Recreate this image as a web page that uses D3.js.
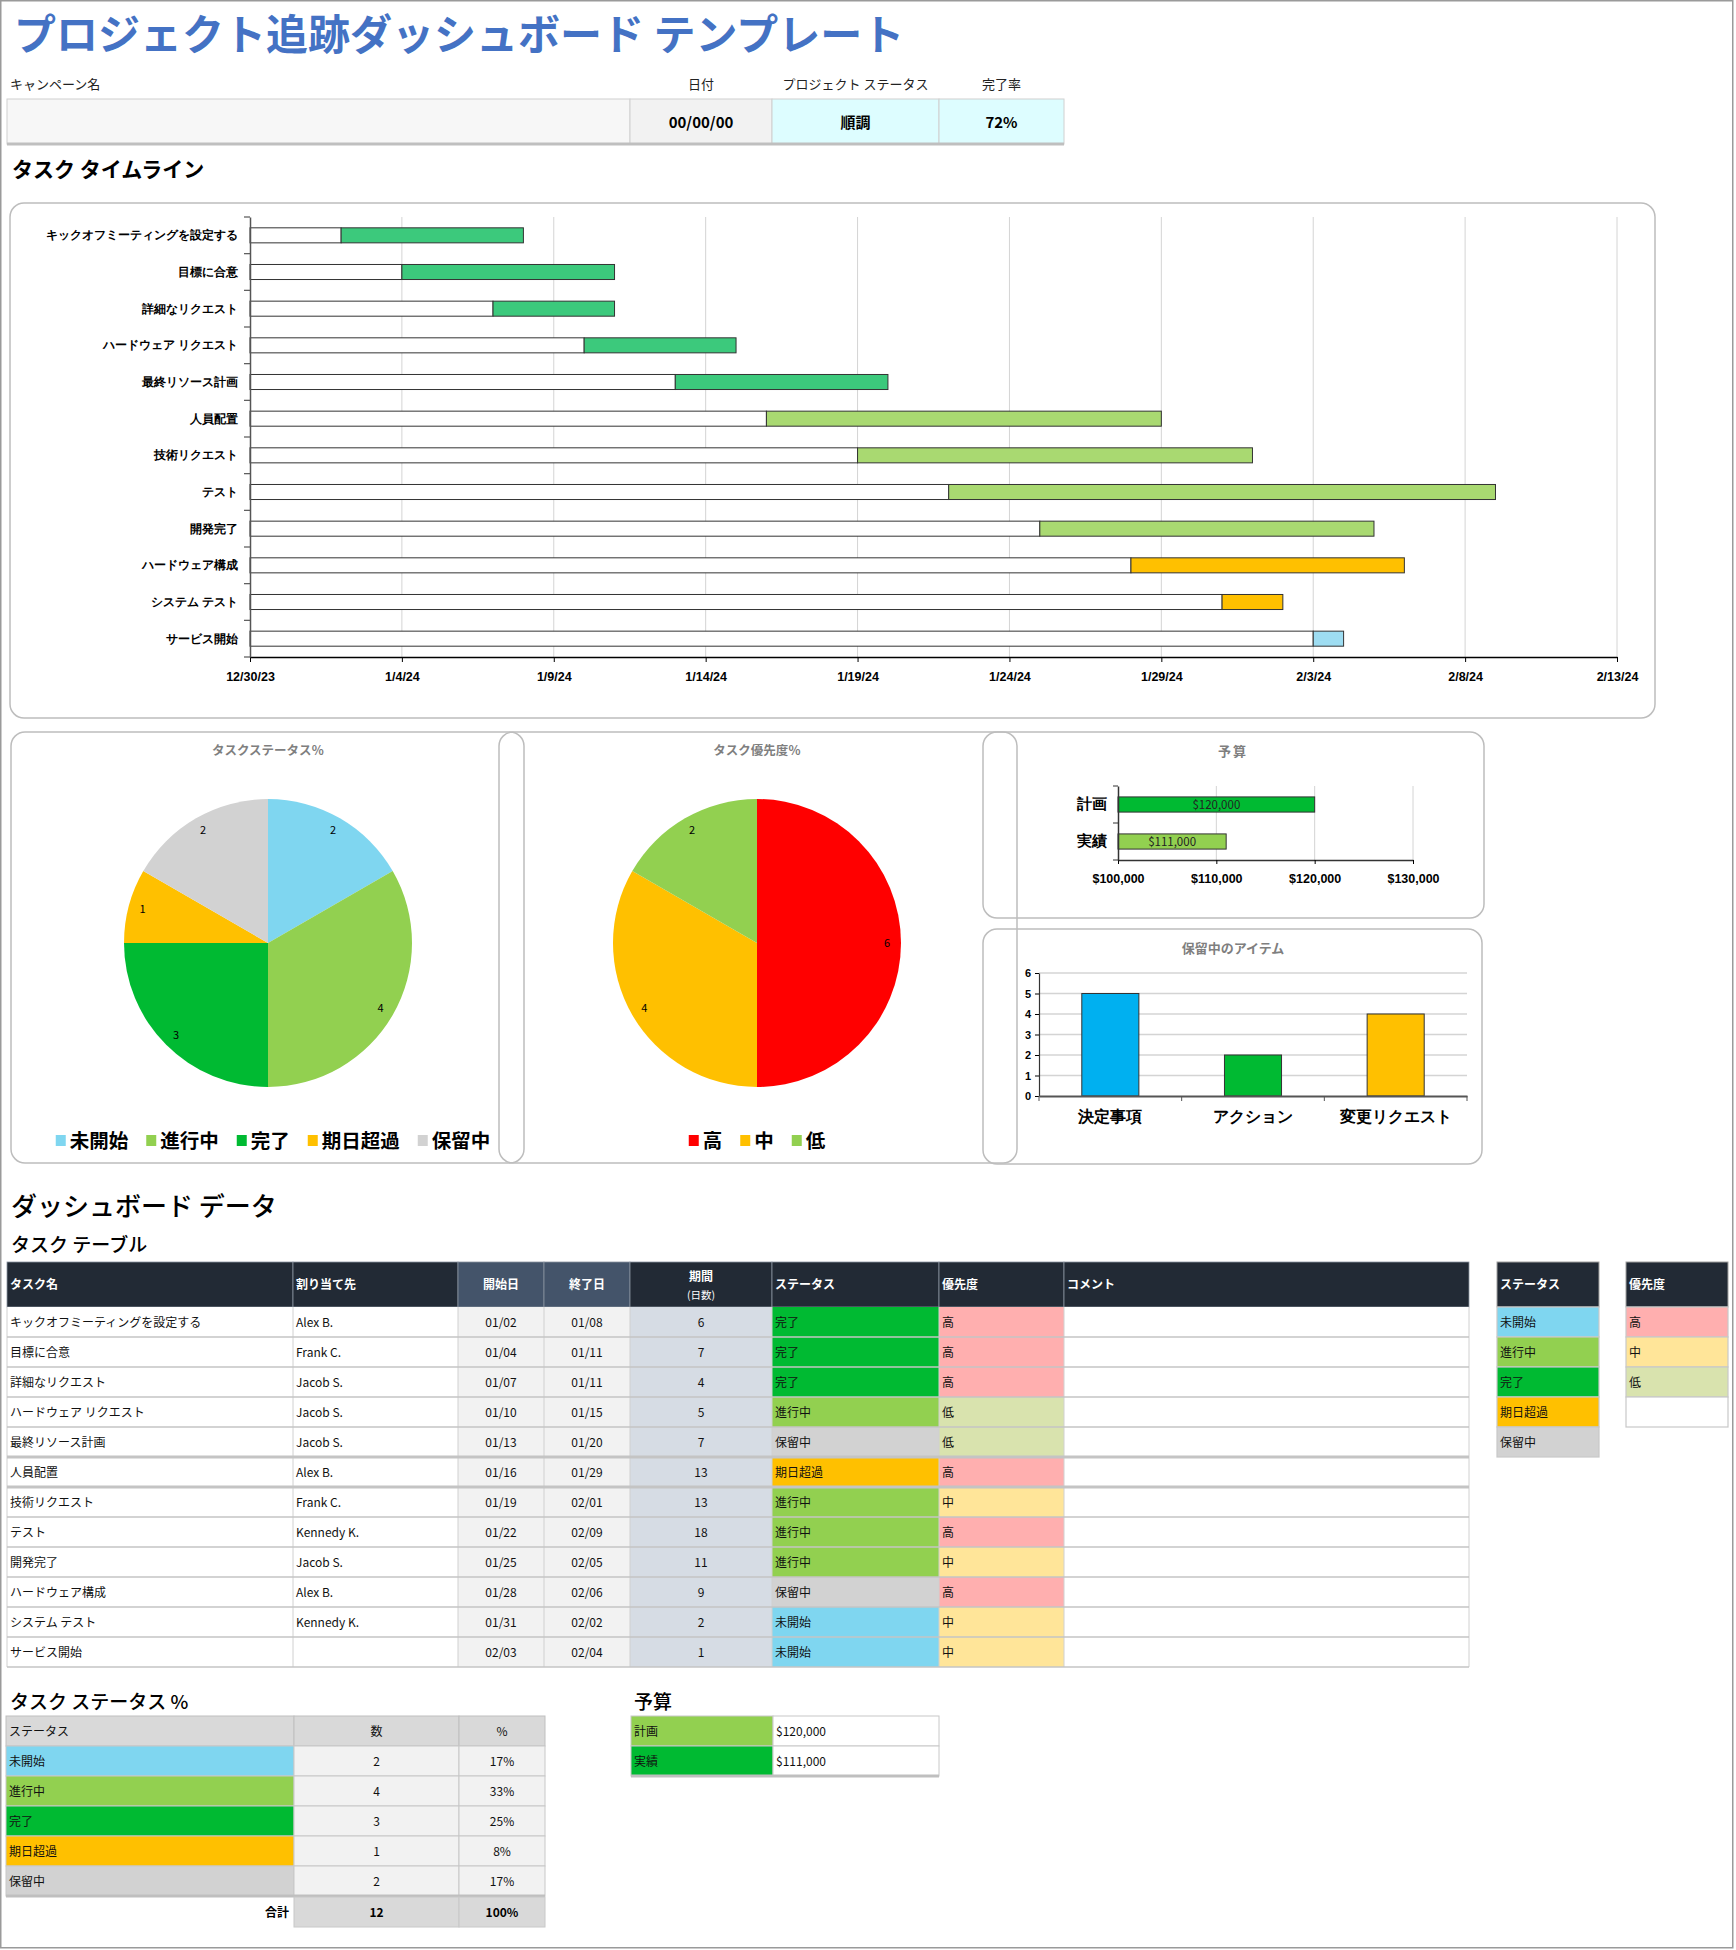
<!DOCTYPE html>
<html><head><meta charset="utf-8">
<script src="https://cdn.jsdelivr.net/npm/d3@7"></script>
<style>
html,body{margin:0;padding:0;background:#fff;}
svg{display:block;font-family:"Noto Sans CJK JP","Noto Sans",sans-serif;}
</style></head><body>
<svg id="c" width="1736" height="1950"></svg>
<script>
// ---------------- DATA ----------------
const titleText = "プロジェクト追跡ダッシュボード テンプレート";
const headerLabels = ["キャンペーン名", "日付", "プロジェクト ステータス", "完了率"];
const headerValues = ["", "00/00/00", "順調", "72%"];

const taskNames = ["キックオフミーティングを設定する","目標に合意","詳細なリクエスト","ハードウェア リクエスト","最終リソース計画","人員配置","技術リクエスト","テスト","開発完了","ハードウェア構成","システム テスト","サービス開始"];
const assignees = ["Alex B.","Frank C.","Jacob S.","Jacob S.","Jacob S.","Alex B.","Frank C.","Kennedy K.","Jacob S.","Alex B.","Kennedy K.",""];
const startDates = ["2024-01-02","2024-01-04","2024-01-07","2024-01-10","2024-01-13","2024-01-16","2024-01-19","2024-01-22","2024-01-25","2024-01-28","2024-01-31","2024-02-03"];
const endDates = ["2024-01-08","2024-01-11","2024-01-11","2024-01-15","2024-01-20","2024-01-29","2024-02-01","2024-02-09","2024-02-05","2024-02-06","2024-02-02","2024-02-04"];
const durations = [6,7,4,5,7,13,13,18,11,9,2,1];
const taskStatus = ["完了","完了","完了","進行中","保留中","期日超過","進行中","進行中","進行中","保留中","未開始","未開始"];
const taskPriority = ["高","高","高","低","低","高","中","高","中","高","中","中"];
const ganttTicks = ["2023-12-30","2024-01-04","2024-01-09","2024-01-14","2024-01-19","2024-01-24","2024-01-29","2024-02-03","2024-02-08","2024-02-13"];
const ganttGroup = ["done","done","done","done","done","mid","mid","mid","mid","late","late","new"];

const statusCats = ["未開始","進行中","完了","期日超過","保留中"];
const statusCounts = [2,4,3,1,2];
const priorityCats = ["高","中","低"];
const priorityCounts = [6,4,2];
const budgetCats = ["計画","実績"];
const budgetValues = [120000,111000];
const budgetTicks = [100000,110000,120000,130000];
const holdCats = ["決定事項","アクション","変更リクエスト"];
const holdValues = [5,2,4];
const holdTicks = [0,1,2,3,4,5,6];
const tableHeaders = ["タスク名","割り当て先","開始日","終了日","期間","ステータス","優先度","コメント"];

// ---------------- STYLES ----------------
const statusColor = {"未開始":"#7FD6F0","進行中":"#92D050","完了":"#00BA32","期日超過":"#FFC000","保留中":"#D2D2D2"};
const priorityColor = {"高":"#FFAFAF","中":"#FFE599","低":"#D9E3AE"};
const piePriorityColor = {"高":"#FF0000","中":"#FFC000","低":"#92D050"};
const ganttColor = {done:"#3CC97C", mid:"#A9D971", late:"#FFC000", new:"#9EDDF2"};
const holdColor = ["#00B0F0","#00BA32","#FFC000"];
const budgetColor = ["#00BA32","#92D050"];

const parse = d3.timeParse("%Y-%m-%d");
const fmtTick = d => `${d.getMonth()+1}/${d.getDate()}/${String(d.getFullYear()).slice(2)}`;
const svg = d3.select("#c");

// frame
svg.append("rect").attr("x",0.75).attr("y",0.75).attr("width",1732).attr("height",1947)
  .attr("fill","none").attr("stroke","#9A9A9A").attr("stroke-width",1.5);

// title
svg.append("text").attr("x",14).attr("y",50).attr("font-size",42).attr("font-weight",700)
  .attr("fill","#4472C4").text(titleText);

// header info row
const hx = [7,630,772,939,1064];
const hFill = ["#F7F7F7","#F2F2F2","#DDFDFF","#DDFDFF"];
const hg = svg.append("g");
headerLabels.forEach((t,i)=>{
  hg.append("text").attr("x", i===0 ? 10 : (hx[i]+hx[i+1])/2).attr("y",89)
    .attr("text-anchor", i===0?"start":"middle").attr("font-size",13).attr("fill","#222").text(t);
  hg.append("rect").attr("x",hx[i]).attr("y",99).attr("width",hx[i+1]-hx[i]).attr("height",45)
    .attr("fill",hFill[i]).attr("stroke","#D0D0D0").attr("stroke-width",1);
  hg.append("text").attr("x",(hx[i]+hx[i+1])/2).attr("y",128).attr("text-anchor","middle")
    .attr("font-size",15).attr("font-weight",700).attr("fill","#000").text(headerValues[i]);
});
hg.append("line").attr("x1",7).attr("x2",1064).attr("y1",144).attr("y2",144).attr("stroke","#BFBFBF").attr("stroke-width",3);

svg.append("text").attr("x",12).attr("y",177).attr("font-size",21).attr("font-weight",700).attr("fill","#000").text("タスク タイムライン");

// panels
const panel = (x,y,w,h)=>svg.append("rect").attr("x",x).attr("y",y).attr("width",w).attr("height",h)
  .attr("rx",14).attr("fill","none").attr("stroke","#BDBDBD").attr("stroke-width",1.5);
panel(10,203,1645,515);
panel(11,732,513,431);
panel(499,732,518,431);
panel(983,732,501,186);
panel(983,929,499,235);

// ---------------- GANTT ----------------
const gT = ganttTicks.map(parse);
const gx = d3.scaleTime().domain([gT[0], gT[gT.length-1]]).range([250,1617]);
const gy = d3.scaleBand().domain(taskNames).range([217,657]).paddingInner(0.59).paddingOuter(0.295);
const gg = svg.append("g");
gg.selectAll("line.grid").data(gT.slice(1)).join("line").attr("class","grid")
  .attr("x1",d=>gx(d)).attr("x2",d=>gx(d)).attr("y1",217).attr("y2",657)
  .attr("stroke","#D4D4D4").attr("stroke-width",1);
const tasks = taskNames.map((n,i)=>({n, s:parse(startDates[i]), e:parse(endDates[i]), g:ganttGroup[i]}));
gg.selectAll("rect.pre").data(tasks).join("rect").attr("class","pre")
  .attr("x",gx(gT[0])).attr("y",d=>gy(d.n)).attr("width",d=>gx(d.s)-gx(gT[0])).attr("height",gy.bandwidth())
  .attr("fill","#fff").attr("stroke","#333").attr("stroke-width",1);
gg.selectAll("rect.dur").data(tasks).join("rect").attr("class","dur")
  .attr("x",d=>gx(d.s)).attr("y",d=>gy(d.n)).attr("width",d=>gx(d.e)-gx(d.s)).attr("height",gy.bandwidth())
  .attr("fill",d=>ganttColor[d.g]).attr("stroke","#333").attr("stroke-width",1);
const gxa = gg.append("g").attr("transform","translate(0,657)")
  .call(d3.axisBottom(gx).tickValues(gT).tickFormat(fmtTick).tickSize(5).tickSizeOuter(0));
gxa.select(".domain").attr("stroke","#000").attr("stroke-width",1.5);
gxa.selectAll(".tick line").attr("stroke","#000");
gxa.selectAll("text").attr("font-size",12.5).attr("font-weight",700).attr("fill","#000").attr("dy","1.3em");
const gya = gg.append("g").attr("transform","translate(250,0)")
  .call(d3.axisLeft(gy).tickSize(0).tickPadding(12).tickSizeOuter(0));
gya.select(".domain").attr("stroke","#555").attr("stroke-width",1.5);
gya.selectAll("text").attr("font-size",12).attr("font-weight",700).attr("fill","#000");
gg.selectAll("line.bt").data(d3.range(taskNames.length+1)).join("line").attr("class","bt")
  .attr("x1",244).attr("x2",250).attr("y1",i=>217+i*gy.step()).attr("y2",i=>217+i*gy.step())
  .attr("stroke","#555").attr("stroke-width",1.2);

// ---------------- PIES ----------------
function drawPie(cx, cy, cats, vals, colors, title, legendCenter){
  const g = svg.append("g");
  const data = cats.map((c,i)=>({c, v:vals[i]}));
  const arcs = d3.pie().sort(null).value(d=>d.v)(data);
  const arc = d3.arc().innerRadius(0).outerRadius(144);
  const lab = d3.arc().innerRadius(130).outerRadius(130);
  const pg = g.append("g").attr("transform",`translate(${cx},${cy})`);
  pg.selectAll("path").data(arcs).join("path").attr("d",arc).attr("fill",d=>colors[d.data.c]);
  pg.selectAll("text").data(arcs).join("text").attr("transform",d=>`translate(${lab.centroid(d)})`)
    .attr("text-anchor","middle").attr("dy","0.35em").attr("font-size",11).attr("fill","#000").text(d=>d.data.v);
  g.append("text").attr("x",cx).attr("y",755).attr("text-anchor","middle").attr("font-size",12.5)
    .attr("font-weight",700).attr("fill","#7F7F7F").text(title);
  const fs = 19.5, sq = 10, gap1 = 4, gap2 = 18;
  const widths = cats.map(c=>sq+gap1+c.length*fs);
  const total = d3.sum(widths) + gap2*(cats.length-1);
  let x0 = legendCenter - total/2;
  const lg = g.append("g");
  cats.forEach((c,i)=>{
    lg.append("rect").attr("x",x0).attr("y",1135).attr("width",sq).attr("height",11).attr("fill",colors[c]);
    lg.append("text").attr("x",x0+sq+gap1).attr("y",1148).attr("font-size",fs).attr("font-weight",700).attr("fill","#000").text(c);
    x0 += widths[i]+gap2;
  });
}
drawPie(268, 943, statusCats, statusCounts, statusColor, "タスクステータス％", 273);
drawPie(757, 943, priorityCats, priorityCounts, piePriorityColor, "タスク優先度％", 757);

// ---------------- BUDGET CHART ----------------
{
  const g = svg.append("g");
  const bx = d3.scaleLinear().domain([budgetTicks[0], budgetTicks[budgetTicks.length-1]]).range([1118,1413]);
  const by = d3.scaleBand().domain(budgetCats).range([786,860]).paddingInner(0.59).paddingOuter(0.295);
  g.append("text").attr("x",1233).attr("y",756).attr("text-anchor","middle").attr("font-size",13)
    .attr("font-weight",700).attr("fill","#7F7F7F").attr("letter-spacing",2).text("予算");
  g.selectAll("line.grid").data(budgetTicks.slice(1)).join("line").attr("class","grid")
    .attr("x1",d=>bx(d)).attr("x2",d=>bx(d)).attr("y1",786).attr("y2",860).attr("stroke","#D4D4D4");
  g.selectAll("rect").data(budgetValues).join("rect")
    .attr("x",bx(budgetTicks[0])).attr("y",(d,i)=>by(budgetCats[i])).attr("width",d=>bx(d)-bx(budgetTicks[0]))
    .attr("height",by.bandwidth()).attr("fill",(d,i)=>budgetColor[i]).attr("stroke","#333").attr("stroke-width",1);
  g.selectAll("text.bl").data(budgetValues).join("text").attr("class","bl")
    .attr("x",d=>(bx(d)+bx(budgetTicks[0]))/2).attr("y",(d,i)=>by(budgetCats[i])+by.bandwidth()/2)
    .attr("dy","0.38em").attr("text-anchor","middle").attr("font-size",11.5).attr("fill","#222")
    .text(d=>d3.format("$,")(d));
  const xa = g.append("g").attr("transform","translate(0,860)")
    .call(d3.axisBottom(bx).tickValues(budgetTicks).tickFormat(d3.format("$,")).tickSize(4).tickSizeOuter(0));
  xa.select(".domain").attr("stroke","#333").attr("stroke-width",1.5);
  xa.selectAll("text").attr("font-size",12.5).attr("font-weight",700).attr("fill","#000").attr("dy","1.25em");
  const ya = g.append("g").attr("transform","translate(1118,0)")
    .call(d3.axisLeft(by).tickSize(0).tickPadding(11).tickSizeOuter(0));
  ya.select(".domain").attr("stroke","#333").attr("stroke-width",1.5);
  ya.selectAll("text").attr("font-size",15).attr("font-weight",700).attr("fill","#000");
  g.selectAll("line.bt").data(d3.range(budgetCats.length+1)).join("line").attr("class","bt")
    .attr("x1",1113).attr("x2",1118).attr("y1",i=>786+i*by.step()).attr("y2",i=>786+i*by.step()).attr("stroke","#333");
}

// ---------------- HOLD ITEMS CHART ----------------
{
  const g = svg.append("g");
  const hy = d3.scaleLinear().domain([0,6]).range([1096,973]);
  const hxs = d3.scaleBand().domain(holdCats).range([1039,1467]).paddingInner(0.6).paddingOuter(0.3);
  g.append("text").attr("x",1233).attr("y",953).attr("text-anchor","middle").attr("font-size",13)
    .attr("font-weight",700).attr("fill","#7F7F7F").text("保留中のアイテム");
  g.selectAll("line.grid").data(holdTicks.slice(1)).join("line").attr("class","grid")
    .attr("x1",1039).attr("x2",1467).attr("y1",d=>hy(d)).attr("y2",d=>hy(d)).attr("stroke","#D4D4D4").attr("stroke-width",1.5);
  g.selectAll("rect").data(holdValues).join("rect")
    .attr("x",(d,i)=>hxs(holdCats[i])).attr("y",d=>hy(d)).attr("width",hxs.bandwidth()).attr("height",d=>hy(0)-hy(d))
    .attr("fill",(d,i)=>holdColor[i]).attr("stroke","#333").attr("stroke-width",1);
  const ya = g.append("g").attr("transform","translate(1039,0)")
    .call(d3.axisLeft(hy).tickValues(holdTicks).tickFormat(d3.format("d")).tickSize(4).tickSizeOuter(0));
  ya.select(".domain").attr("stroke","#333").attr("stroke-width",1.2);
  ya.selectAll("text").attr("font-size",11).attr("font-weight",700).attr("fill","#000").attr("x",-8);
  const xa = g.append("g").attr("transform","translate(0,1096)")
    .call(d3.axisBottom(hxs).tickSize(0).tickPadding(15).tickSizeOuter(0));
  xa.select(".domain").attr("stroke","#555").attr("stroke-width",2);
  xa.selectAll("text").attr("font-size",16).attr("font-weight",700).attr("fill","#000");
  g.selectAll("line.bt").data(d3.range(holdCats.length+1)).join("line").attr("class","bt")
    .attr("x1",i=>1039+i*hxs.step()).attr("x2",i=>1039+i*hxs.step()).attr("y1",1096).attr("y2",1101).attr("stroke","#555");
}

// ---------------- TASK TABLE ----------------
svg.append("text").attr("x",11).attr("y",1216).attr("font-size",26).attr("font-weight",500).attr("fill","#000").text("ダッシュボード データ");
svg.append("text").attr("x",11).attr("y",1252).attr("font-size",19).attr("font-weight",500).attr("fill","#000").text("タスク テーブル");
{
  const g = svg.append("g");
  const cx = [7,293,458,544,630,772,939,1064,1469];
  const hdrFill = ["#222A35","#222A35","#44546A","#44546A","#222A35","#222A35","#222A35","#222A35"];
  const rows = d3.scaleBand().domain(d3.range(taskNames.length)).range([1307,1667]);
  tableHeaders.forEach((h,i)=>{
    g.append("rect").attr("x",cx[i]).attr("y",1262).attr("width",cx[i+1]-cx[i]).attr("height",45)
      .attr("fill",hdrFill[i]).attr("stroke","#8A93A0").attr("stroke-width",0.8);
    const center = (i>=2 && i<=4);
    if(i===4){
      g.append("text").attr("x",(cx[i]+cx[i+1])/2).attr("y",1281).attr("text-anchor","middle")
        .attr("font-size",12).attr("font-weight",700).attr("fill","#fff").text(h);
      g.append("text").attr("x",(cx[i]+cx[i+1])/2).attr("y",1299).attr("text-anchor","middle")
        .attr("font-size",10.5).attr("fill","#fff").text("(日数)");
    } else {
      g.append("text").attr("x",center?(cx[i]+cx[i+1])/2:cx[i]+3).attr("y",1289)
        .attr("text-anchor",center?"middle":"start").attr("font-size",12).attr("font-weight",700).attr("fill","#fff").text(h);
    }
  });
  const fmtMD = d3.timeFormat("%m/%d");
  taskNames.forEach((n,r)=>{
    const y = rows(r), h = rows.bandwidth();
    const cells = [n, assignees[r], fmtMD(parse(startDates[r])), fmtMD(parse(endDates[r])), durations[r], taskStatus[r], taskPriority[r], ""];
    const fills = ["#fff","#fff","#F2F2F2","#F2F2F2","#D6DCE4",statusColor[taskStatus[r]],priorityColor[taskPriority[r]],"#fff"];
    cells.forEach((v,i)=>{
      g.append("rect").attr("x",cx[i]).attr("y",y).attr("width",cx[i+1]-cx[i]).attr("height",h).attr("fill",fills[i]);
      const center = (i>=2 && i<=4);
      g.append("text").attr("x",center?(cx[i]+cx[i+1])/2:cx[i]+3).attr("y",y+h/2).attr("dy","0.38em")
        .attr("text-anchor",center?"middle":"start").attr("font-size",12).attr("fill","#111").text(v);
    });
  });
  g.selectAll("line.v").data(cx).join("line").attr("class","v")
    .attr("x1",d=>d).attr("x2",d=>d).attr("y1",1307).attr("y2",1667).attr("stroke","#D0D0D0").attr("stroke-width",1);
  g.selectAll("line.h").data(d3.range(1,taskNames.length+1)).join("line").attr("class","h")
    .attr("x1",7).attr("x2",1469).attr("y1",r=>1307+r*rows.step()).attr("y2",r=>1307+r*rows.step())
    .attr("stroke","#C4C4C4").attr("stroke-width",r=>(r===5||r===6)?3:1.5);

  function legendTable(x0,x1,title,cats,colors,extra){
    g.append("rect").attr("x",x0).attr("y",1262).attr("width",x1-x0).attr("height",45).attr("fill","#222A35").attr("stroke","#A0A0A0").attr("stroke-width",1);
    g.append("text").attr("x",x0+3).attr("y",1289).attr("font-size",12).attr("font-weight",700).attr("fill","#fff").text(title);
    const all = extra ? cats.concat([""]) : cats;
    all.forEach((c,i)=>{
      const y = 1307+i*30;
      g.append("rect").attr("x",x0).attr("y",y).attr("width",x1-x0).attr("height",30)
        .attr("fill",c?colors[c]:"#fff").attr("stroke","#C8C8C8").attr("stroke-width",1.2);
      g.append("text").attr("x",x0+3).attr("y",y+15).attr("dy","0.38em").attr("font-size",12).attr("fill","#111").text(c);
    });
  }
  legendTable(1497,1599,"ステータス",statusCats,statusColor,false);
  legendTable(1626,1728,"優先度",priorityCats,priorityColor,true);
}

// ---------------- STATUS % TABLE ----------------
svg.append("text").attr("x",10).attr("y",1709).attr("font-size",19).attr("font-weight",500).attr("fill","#000").text("タスク ステータス %");
svg.append("text").attr("x",634).attr("y",1709).attr("font-size",19).attr("font-weight",500).attr("fill","#000").text("予算");
{
  const g = svg.append("g");
  const cx = [6,294,459,545];
  const total = d3.sum(statusCounts);
  const pct = d3.format(".0%");
  const hdr = ["ステータス","数","%"];
  hdr.forEach((h,i)=>{
    g.append("rect").attr("x",cx[i]).attr("y",1716).attr("width",cx[i+1]-cx[i]).attr("height",30).attr("fill","#D9D9D9").attr("stroke","#BFBFBF");
    g.append("text").attr("x",i===0?cx[i]+3:(cx[i]+cx[i+1])/2).attr("y",1731).attr("dy","0.38em")
      .attr("text-anchor",i===0?"start":"middle").attr("font-size",12).attr("fill","#111").text(h);
  });
  statusCats.forEach((c,r)=>{
    const y = 1746+r*30;
    const vals = [c, statusCounts[r], pct(statusCounts[r]/total)];
    const fills = [statusColor[c],"#F2F2F2","#F2F2F2"];
    vals.forEach((v,i)=>{
      g.append("rect").attr("x",cx[i]).attr("y",y).attr("width",cx[i+1]-cx[i]).attr("height",30).attr("fill",fills[i]).attr("stroke","#C8C8C8").attr("stroke-width",1);
      g.append("text").attr("x",i===0?cx[i]+3:(cx[i]+cx[i+1])/2).attr("y",y+15).attr("dy","0.38em")
        .attr("text-anchor",i===0?"start":"middle").attr("font-size",12).attr("fill","#111").text(v);
    });
  });
  g.append("line").attr("x1",6).attr("x2",545).attr("y1",1896).attr("y2",1896).attr("stroke","#BFBFBF").attr("stroke-width",3);
  g.append("text").attr("x",289).attr("y",1912).attr("dy","0.38em").attr("text-anchor","end").attr("font-size",12).attr("font-weight",700).attr("fill","#000").text("合計");
  [total, pct(1)].forEach((v,k)=>{
    const i = k+1;
    g.append("rect").attr("x",cx[i]).attr("y",1897).attr("width",cx[i+1]-cx[i]).attr("height",30).attr("fill","#D9D9D9").attr("stroke","#C8C8C8");
    g.append("text").attr("x",(cx[i]+cx[i+1])/2).attr("y",1912).attr("dy","0.38em").attr("text-anchor","middle")
      .attr("font-size",12).attr("font-weight",700).attr("fill","#000").text(v);
  });

  const bx = [631,773,939];
  const bFill = ["#92D050","#00BA32"];
  budgetCats.forEach((c,r)=>{
    const y = 1716+r*30;
    g.append("rect").attr("x",bx[0]).attr("y",y).attr("width",bx[1]-bx[0]).attr("height",30).attr("fill",bFill[r]).attr("stroke","#C8C8C8");
    g.append("rect").attr("x",bx[1]).attr("y",y).attr("width",bx[2]-bx[1]).attr("height",30).attr("fill","#fff").attr("stroke","#C8C8C8");
    g.append("text").attr("x",bx[0]+3).attr("y",y+15).attr("dy","0.38em").attr("font-size",12).attr("fill","#111").text(c);
    g.append("text").attr("x",bx[1]+3).attr("y",y+15).attr("dy","0.38em").attr("font-size",12).attr("fill","#111").text(d3.format("$,")(budgetValues[r]));
  });
  g.append("line").attr("x1",631).attr("x2",939).attr("y1",1776).attr("y2",1776).attr("stroke","#BFBFBF").attr("stroke-width",3);
}
</script>
</body></html>
